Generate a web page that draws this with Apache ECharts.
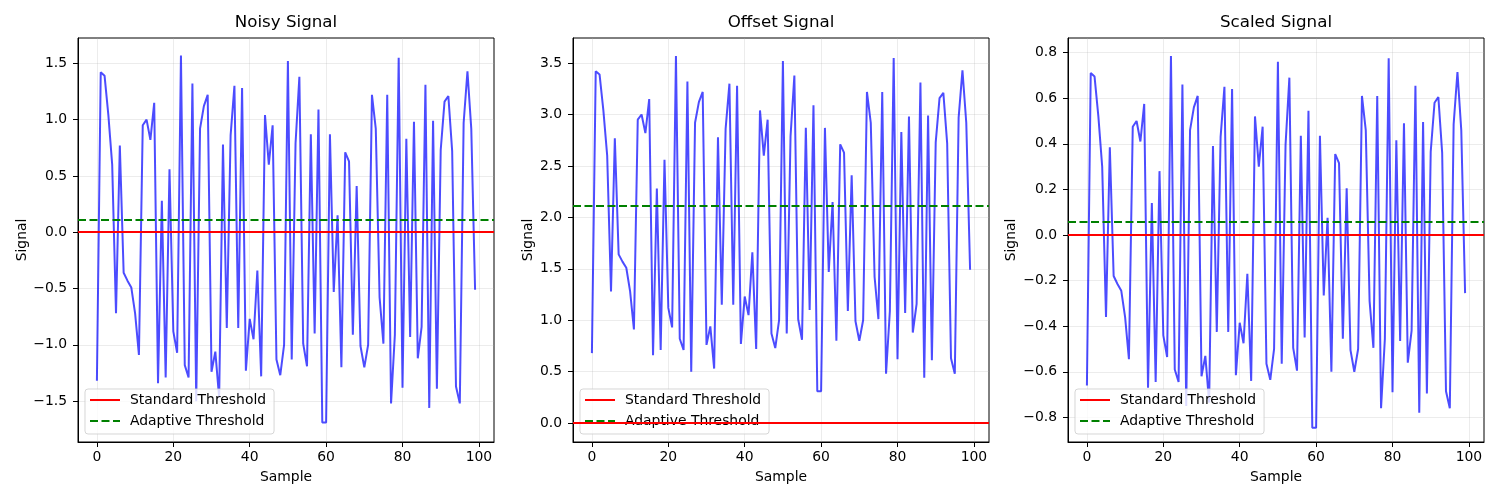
<!DOCTYPE html>
<html>
<head>
<meta charset="utf-8">
<title>Signal thresholds</title>
<script src="https://cdn.jsdelivr.net/npm/echarts@6/dist/echarts.min.js"></script>
<style>
    html, body { margin: 0; padding: 0; background: #fff; }
    #main { width: 1500px; height: 500px; }
</style>
</head>
<body>
<div id="main"></div>
<script>
// values
const panelTitles = ['Noisy Signal', 'Offset Signal', 'Scaled Signal']

const noisySignal = [
    -1.32, 1.42, 1.39, 1.04, 0.60, -0.72, 0.77, -0.36, -0.43, -0.49,
    -0.72, -1.09, 0.95, 1.00, 0.82, 1.15, -1.34, 0.28, -1.29, 0.56,
    -0.88, -1.07, 1.57, -1.18, -1.29, 1.32, -1.50, 0.92, 1.12, 1.22,
    -1.24, -1.06, -1.47, 0.78, -0.85, 0.86, 1.30, -0.85, 1.28, -1.23,
    -0.77, -0.95, -0.34, -1.28, 1.04, 0.60, 0.95, -1.13, -1.27, -1.00,
    1.52, -1.13, 0.79, 1.38, -0.99, -1.19, 0.87, -0.90, 1.09, -1.69,
    -1.69, 0.87, -0.53, 0.15, -1.20, 0.71, 0.63, -0.91, 0.41, -1.01,
    -1.20, -1.00, 1.22, 0.92, -0.58, -0.99, 1.22, -1.52, -0.91, 1.55,
    -1.38, 0.83, -0.93, 0.98, -1.12, -0.84, 1.31, -1.56, 0.99, -1.39,
    0.73, 1.16, 1.21, 0.72, -1.37, -1.52, 0.97, 1.43, 0.92, -0.51
]

const offsetSignal = [
    0.68, 3.42, 3.39, 3.04, 2.60, 1.28, 2.77, 1.64, 1.57, 1.51,
    1.28, 0.91, 2.95, 3.00, 2.82, 3.15, 0.66, 2.28, 0.71, 2.56,
    1.12, 0.93, 3.57, 0.82, 0.71, 3.32, 0.50, 2.92, 3.12, 3.22,
    0.76, 0.94, 0.53, 2.78, 1.15, 2.86, 3.30, 1.15, 3.28, 0.77,
    1.23, 1.05, 1.66, 0.72, 3.04, 2.60, 2.95, 0.87, 0.73, 1.00,
    3.52, 0.87, 2.79, 3.38, 1.01, 0.81, 2.87, 1.10, 3.09, 0.31,
    0.31, 2.87, 1.47, 2.15, 0.80, 2.71, 2.63, 1.09, 2.41, 0.99,
    0.80, 1.00, 3.22, 2.92, 1.42, 1.01, 3.22, 0.48, 1.09, 3.55,
    0.62, 2.83, 1.07, 2.98, 0.88, 1.16, 3.31, 0.44, 2.99, 0.61,
    2.73, 3.16, 3.21, 2.72, 0.63, 0.48, 2.97, 3.43, 2.92, 1.49
]

const scaledSignal = [
    -0.66, 0.71, 0.695, 0.52, 0.30, -0.36, 0.385, -0.18, -0.215, -0.245,
    -0.36, -0.545, 0.475, 0.50, 0.41, 0.575, -0.67, 0.14, -0.645, 0.28,
    -0.44, -0.535, 0.785, -0.59, -0.645, 0.66, -0.75, 0.46, 0.56, 0.61,
    -0.62, -0.53, -0.735, 0.39, -0.425, 0.43, 0.65, -0.425, 0.64, -0.615,
    -0.385, -0.475, -0.17, -0.64, 0.52, 0.30, 0.475, -0.565, -0.635, -0.50,
    0.76, -0.565, 0.395, 0.69, -0.495, -0.595, 0.435, -0.45, 0.545, -0.845,
    -0.845, 0.435, -0.265, 0.075, -0.60, 0.355, 0.315, -0.455, 0.205, -0.505,
    -0.60, -0.50, 0.61, 0.46, -0.29, -0.495, 0.61, -0.76, -0.455, 0.775,
    -0.69, 0.415, -0.465, 0.49, -0.56, -0.42, 0.655, -0.78, 0.495, -0.695,
    0.365, 0.58, 0.605, 0.36, -0.685, -0.76, 0.485, 0.715, 0.46, -0.255
]

const standardThreshold = [0, 0, 0]
const adaptiveThreshold = [0.11, 2.11, 0.055]

const xTicks = [0, 20, 40, 60, 80, 100]
const noisyTicks = [-1.5, -1.0, -0.5, 0.0, 0.5, 1.0, 1.5]
const offsetTicks = [0.0, 0.5, 1.0, 1.5, 2.0, 2.5, 3.0, 3.5]
const scaledTicks = [-0.8, -0.6, -0.4, -0.2, 0.0, 0.2, 0.4, 0.6, 0.8]

///以上是数据

const signals = [noisySignal, offsetSignal, scaledSignal]
const yTickSets = [noisyTicks, offsetTicks, scaledTicks]
const yRanges = [[-1.863, 1.725], [-0.184, 3.744], [-0.908, 0.864]]
const gridLefts = [78, 573, 1068]
const yNameGaps = [49, 38, 50]
const plotWidth = 416
const plotTop = 38
const plotHeight = 404

const FONT = 'DejaVu Sans'

function fmt(v) {
    return v.toFixed(1).replace('-', '\u2212')
}

function initChart() {
    let myChart = echarts.init(document.getElementById('main'), null, {renderer: 'canvas'})

    let option = {
        animation: false,
        backgroundColor: '#fff',
        textStyle: {fontFamily: FONT},
        grid: [],
        xAxis: [],
        yAxis: [],
        legend: [],
        graphic: [],
        series: []
    }

    for (let p = 0; p < 3; p++) {
        option.grid.push({
            left: gridLefts[p], top: plotTop, width: plotWidth, height: plotHeight,
            show: true, borderColor: '#000', borderWidth: 1, backgroundColor: 'transparent'
        })

        option.xAxis.push({
            type: 'value', gridIndex: p, min: -4.95, max: 103.95,
            name: 'Sample', nameLocation: 'middle', nameGap: 28,
            nameTextStyle: {fontFamily: FONT, fontSize: 13.9, color: '#000'},
            axisLine: {show: true, onZero: false, lineStyle: {color: '#000', width: 1}},
            axisTick: {show: true, inside: false, length: 5, customValues: xTicks, lineStyle: {color: '#000'}},
            axisLabel: {customValues: xTicks, margin: 8, fontFamily: FONT, fontSize: 13.9, color: '#000',
                formatter: v => String(v)},
            splitLine: {show: true, lineStyle: {color: 'rgba(176,176,176,0.3)', width: 0.8}}
        })

        option.yAxis.push({
            type: 'value', gridIndex: p, min: yRanges[p][0], max: yRanges[p][1],
            name: 'Signal', nameLocation: 'middle', nameGap: yNameGaps[p],
            nameTextStyle: {fontFamily: FONT, fontSize: 13.9, color: '#000'},
            axisLine: {show: true, onZero: false, lineStyle: {color: '#000', width: 1}},
            axisTick: {show: true, inside: false, length: 5, customValues: yTickSets[p], lineStyle: {color: '#000'}},
            axisLabel: {customValues: yTickSets[p], margin: 11, fontFamily: FONT, fontSize: 13.9, color: '#000',
                formatter: v => fmt(v)},
            splitLine: {show: true, lineStyle: {color: 'rgba(176,176,176,0.3)', width: 0.8}}
        })

        // 标题
        option.graphic.push({
            type: 'text', x: gridLefts[p] + plotWidth / 2, y: 23, silent: true,
            style: {text: panelTitles[p], align: 'center', verticalAlign: 'middle',
                fontFamily: FONT, fontSize: 16.7, fill: '#000'}
        })

        option.legend.push({
            orient: 'vertical', left: gridLefts[p] + 7, top: 389,
            data: ['Standard Threshold', 'Adaptive Threshold'],
            itemWidth: 30, itemHeight: 14, itemGap: 7,
            padding: [4, 8, 6, 4],
            backgroundColor: 'rgba(255,255,255,0.8)',
            borderColor: 'rgba(204,204,204,0.8)', borderWidth: 1, borderRadius: 3,
            selectedMode: false,
            // 只要线，不要圆点
            itemStyle: {opacity: 0, borderWidth: 0},
            textStyle: {fontFamily: FONT, fontSize: 13.9, color: '#000', padding: [0, 0, 0, 5]}
        })

        option.series.push({
            name: panelTitles[p], type: 'line', xAxisIndex: p, yAxisIndex: p,
            data: signals[p].map((v, i) => [i, v]),
            showSymbol: false, symbol: 'none',
            lineStyle: {color: '#0000ff', opacity: 0.7, width: 2},
            itemStyle: {color: '#0000ff'},
            z: 2
        })

        option.series.push({
            name: 'Standard Threshold', type: 'line', xAxisIndex: p, yAxisIndex: p,
            data: [], symbol: 'none',
            lineStyle: {color: '#ff0000', width: 2},
            itemStyle: {color: '#ff0000'},
            markLine: {
                symbol: 'none', silent: true, label: {show: false}, animation: false,
                lineStyle: {color: '#ff0000', width: 2, type: 'solid'},
                data: [{yAxis: standardThreshold[p]}]
            },
            z: 3
        })

        option.series.push({
            name: 'Adaptive Threshold', type: 'line', xAxisIndex: p, yAxisIndex: p,
            data: [], symbol: 'none',
            lineStyle: {color: '#008000', width: 2, type: [8, 3.5]},
            itemStyle: {color: '#008000'},
            markLine: {
                symbol: 'none', silent: true, label: {show: false}, animation: false,
                lineStyle: {color: '#008000', width: 2, type: [8, 3.5]},
                data: [{yAxis: adaptiveThreshold[p]}]
            },
            z: 3
        })
    }

    option && myChart.setOption(option)
}

initChart()
</script>
</body>
</html>
